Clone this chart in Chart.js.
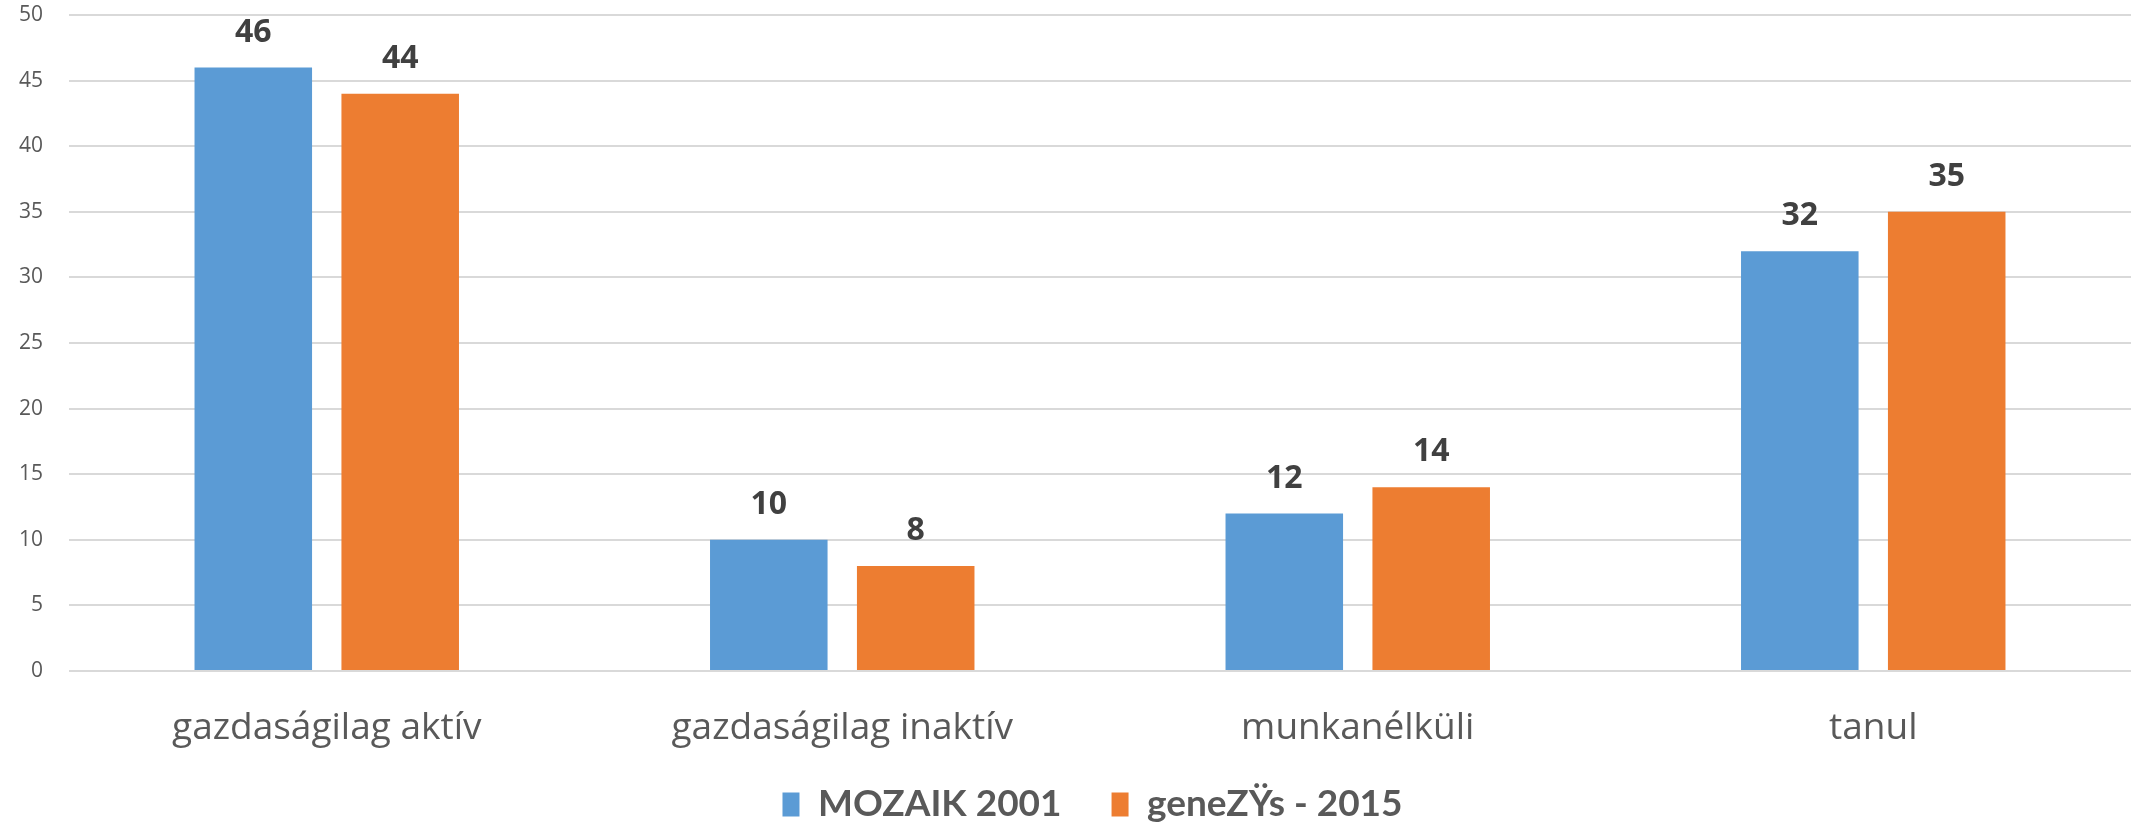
<!DOCTYPE html>
<html>
<head>
<meta charset="utf-8">
<script src="https://cdn.jsdelivr.net/npm/chart.js@4"></script>
<style>
  html, body { margin: 0; padding: 0; background: #ffffff; }
  #wrap { width: 2131px; height: 828px; position: relative; }
</style>
</head>
<body>
<div id="wrap"><canvas id="chart"></canvas></div>
<script>
// values
const categories = ['gazdaságilag aktív', 'gazdaságilag inaktív', 'munkanélküli', 'tanul'];
const mozaik2001 = [46, 10, 12, 32];
const genezys2015 = [44, 8, 14, 35];
const seriesNames = ['MOZAIK 2001', 'geneZŸs - 2015'];

const BLUE = '#5B9BD5';
const ORANGE = '#ED7D31';

// value labels above each bar
const barLabels = {
  id: 'barLabels',
  afterDatasetsDraw(chart) {
    const { ctx } = chart;
    ctx.save();
    ctx.fillStyle = '#404040';
    ctx.font = '700 32px "Open Sans", sans-serif';
    ctx.textAlign = 'center';
    ctx.textBaseline = 'middle';
    chart.data.datasets.forEach((ds, i) => {
      chart.getDatasetMeta(i).data.forEach((bar, j) => {
        ctx.fillText(ds.data[j], bar.x, bar.y - 35);
      });
    });
    ctx.restore();
  },
};

// the legend needs a wide gap between items, which makes its box tall;
// pull it up a bit and nudge it over the plot centre instead
const legendNudge = {
  id: 'legendNudge',
  afterLayout(chart) {
    const lg = chart.legend;
    lg.top -= 20; lg.bottom -= 20;
    lg.left += 24; lg.right += 24;
  },
};

new Chart(document.getElementById('chart'), {
  type: 'bar',
  data: {
    labels: categories,
    datasets: [
      { label: seriesNames[0], data: mozaik2001, backgroundColor: BLUE },
      { label: seriesNames[1], data: genezys2015, backgroundColor: ORANGE },
    ],
  },
  options: {
    responsive: true,
    maintainAspectRatio: false,
    animation: false,
    categoryPercentage: 0.57,
    barPercentage: 0.8,
    layout: { padding: { top: 15, right: -6, left: 0, bottom: -25 } },
    plugins: {
      tooltip: { enabled: false },
      legend: {
        position: 'bottom',
        labels: {
          color: '#595959',
          font: { family: 'Lato, sans-serif', size: 37, weight: '700' },
          boxWidth: 17,
          boxHeight: 24,
          padding: 50,
        },
      },
    },
    scales: {
      x: {
        afterFit: s => { s.height = 85; },
        grid: { display: false, drawTicks: false },
        border: { display: false },
        ticks: {
          color: '#595959',
          font: { family: '"Open Sans", sans-serif', size: 37 },
          padding: 35,
        },
      },
      y: {
        min: 0,
        max: 50,
        afterFit: s => { s.width = 69; s.paddingTop = 0; },
        border: { display: false },
        grid: { color: '#d9d9d9', lineWidth: 2, drawTicks: false },
        ticks: {
          stepSize: 5,
          color: '#595959',
          font: { family: '"Open Sans", sans-serif', size: 21 },
          padding: 26,
        },
      },
    },
  },
  plugins: [barLabels, legendNudge],
});
</script>
</body>
</html>
